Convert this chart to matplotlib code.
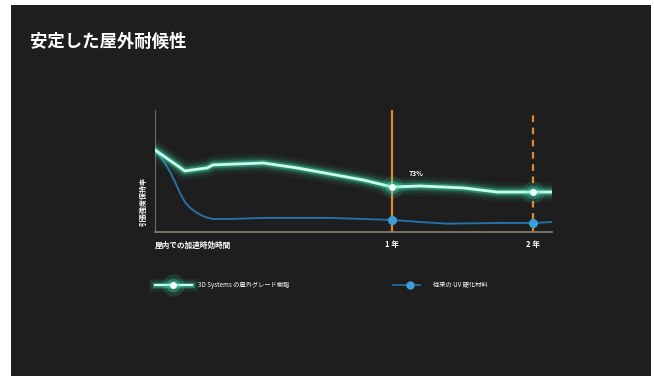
#!/usr/bin/env python3
"""Outdoor weathering stability chart"""
import matplotlib.pyplot as plt
from matplotlib.lines import Line2D

plt.rcParams['font.family'] = ['Noto Sans CJK JP', 'DejaVu Sans']

# time positions (arbitrary display units, 2 年 = 100) and retention (%)
green_x = [0, 7.9, 13.8, 15.3, 28.6, 37.6, 46.3, 55.0, 62.7, 70.1, 81.5, 90.5, 100, 105]
green_y = [100, 84.7, 86.9, 89.1, 90.5, 86.9, 82.5, 78.1, 73, 73.7, 72.3, 69.3, 69.3, 69.3]
blue_x = [0, 1.3, 2.6, 4.0, 5.3, 6.6, 7.9, 9.3, 11.1, 13.2, 15.3, 19.8, 28.6,
          46.3, 62.7, 70.1, 77.2, 90.5, 100, 105]
blue_y = [100, 95.6, 90.5, 83.9, 76.6, 68.6, 62.0, 57.7, 54.0, 51.1, 49.6, 49.6, 50.4,
          50.4, 48.9, 47.4, 46.2, 46.7, 46.7, 47.4]
marker_x = [62.7, 100]
green_marker_y = [73, 69.3]
blue_marker_y = [48.9, 46.7]
tick_pos = [0, 62.7, 100]
tick_labels = ['屋内での加速時効時間', '1 年', '2 年']
series_names = ['3D Systems の屋外グレード樹脂', '従来の UV 硬化材料']

BG = '#1e1e1e'
TEAL = '#3fe6b8'
CORE = '#c8ffe9'
BLUE = '#2670a6'
ORANGE = '#e0892e'

fig = plt.figure(figsize=(6.54, 3.76), dpi=100)
fig.patch.set_facecolor('white')
# dark slide panel
fig.add_artist(plt.Rectangle((11/654, 0), 640/654, 371/376,
                             transform=fig.transFigure, facecolor=BG,
                             edgecolor='none', zorder=0))

fig.text(30/654, 1 - 42/376, '安定した屋外耐候性', color='white',
         fontsize=12.5, fontweight='bold', va='center', ha='left')

ax = fig.add_axes([155/654, 1 - 232/376, 397/654, 122/376])
ax.set_facecolor('none')
ax.set_xlim(0, 105)
ax.set_ylim(40.1, 129.2)
for s in ['top', 'right']:
    ax.spines[s].set_visible(False)
ax.spines['left'].set_color('#6a6a6a')
ax.spines['bottom'].set_color('#8a7f70')
ax.spines['left'].set_linewidth(0.8)
ax.spines['bottom'].set_linewidth(1.2)
ax.set_yticks([])
ax.set_xticks(tick_pos)
ax.set_xticklabels(tick_labels, color='white', fontsize=5.5, fontweight='bold')
ax.tick_params(axis='x', length=0, pad=6)
ax.get_xticklabels()[0].set_ha('left')
ax.set_ylabel('引張強度保持率', color='white', fontsize=5, fontweight='bold')
ax.yaxis.set_label_coords(-0.02, 0.25)

# year markers
ax.axvline(marker_x[0], color=ORANGE, lw=1.6, zorder=1)
ax.axvline(marker_x[1], color=ORANGE, lw=1.6, ls=(0, (3, 2.5)), zorder=1)

# conventional material
ax.plot(blue_x, blue_y, color=BLUE, lw=1.4, zorder=2)
ax.plot(marker_x, blue_marker_y, 'o', color='#3a9fd8', ms=5.5, zorder=3)

# glowing resin line
for lw, a in [(14, 0.05), (10, 0.09), (7, 0.16), (4.5, 0.35)]:
    ax.plot(green_x, green_y, color=TEAL, lw=lw, alpha=a,
            solid_capstyle='round', zorder=4)
ax.plot(green_x, green_y, color=CORE, lw=2.0, zorder=5)
for ms, a in [(16, 0.12), (10, 0.25)]:
    ax.plot(marker_x, green_marker_y, 'o', color=TEAL, ms=ms, alpha=a,
            mec='none', zorder=5)
ax.plot(marker_x, green_marker_y, 'o', color='#f2fff9', ms=4, zorder=6)
ax.annotate('73%', (marker_x[0], green_marker_y[0]), xytext=(12, 8),
            textcoords='offset points', color='white', fontsize=5,
            fontweight='bold')

# legend
lax = fig.add_axes([0, 0, 1, 1])
lax.set_xlim(0, 654)
lax.set_ylim(376, 0)
lax.axis('off')
for lw, a in [(9, 0.08), (6, 0.15), (3.5, 0.35)]:
    lax.add_line(Line2D([155, 192], [285, 285], color=TEAL, lw=lw, alpha=a))
lax.add_line(Line2D([155, 192], [285, 285], color=CORE, lw=1.6))
for ms, a in [(16, 0.15), (10, 0.3)]:
    lax.plot(173, 285, 'o', color=TEAL, ms=ms, alpha=a, mec='none')
lax.plot(173, 285, 'o', color='#f2fff9', ms=4)
lax.text(198, 285, series_names[0], color='white', fontsize=4.5, va='center')
lax.add_line(Line2D([393, 420], [285, 285], color=BLUE, lw=1.2))
lax.plot(410, 285, 'o', color='#3a9fd8', ms=5)
lax.text(433, 285, series_names[1], color='white', fontsize=4.5, va='center')

plt.savefig('out.png', dpi=100, facecolor=fig.get_facecolor())
plt.close()
